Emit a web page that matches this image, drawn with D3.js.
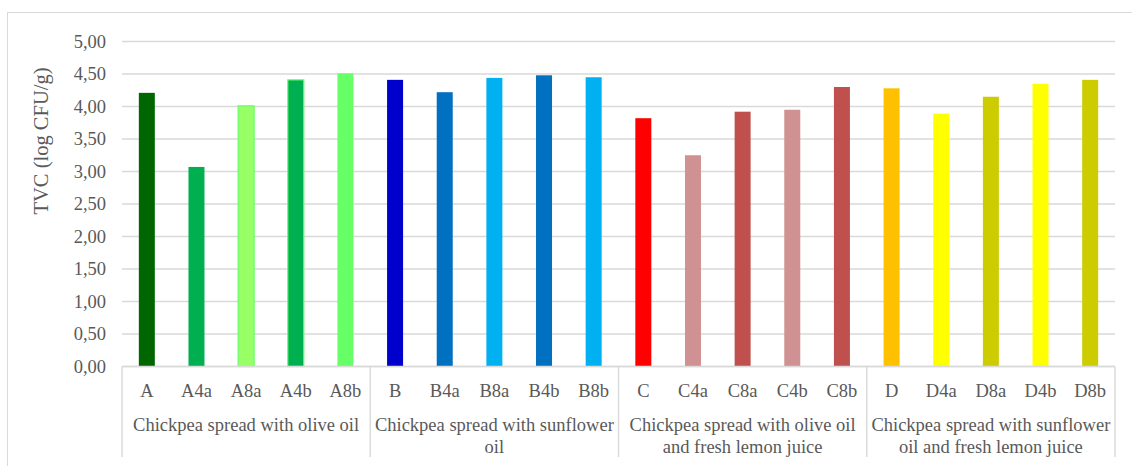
<!DOCTYPE html>
<html>
<head>
<meta charset="utf-8">
<script src="https://cdn.jsdelivr.net/npm/d3@7"></script>
<style>
  html, body { margin: 0; padding: 0; background: #fff; }
  svg text { font-family: "Liberation Serif", "Times New Roman", serif !important; fill: #595959; }
</style>
</head>
<body>
<svg id="chart" width="1132" height="466"></svg>
<script>
// Samples (bars), in order of display
const samples = ["A", "A4a", "A8a", "A4b", "A8b",
                 "B", "B4a", "B8a", "B4b", "B8b",
                 "C", "C4a", "C8a", "C4b", "C8b",
                 "D", "D4a", "D8a", "D4b", "D8b"];
// Total viable count, log CFU/g
const tvc = [4.21, 3.07, 4.01, 4.41, 4.51,
             4.41, 4.22, 4.44, 4.48, 4.45,
             3.82, 3.25, 3.92, 3.95, 4.30,
             4.28, 3.89, 4.15, 4.35, 4.41];
const fills = ["#006600", "#00B050", "#99FF66", "#00B050", "#66FF66",
               "#0000CC", "#0070C0", "#00B0F0", "#0070C0", "#00B0F0",
               "#FF0000", "#CF9191", "#C0504D", "#CF9191", "#C0504D",
               "#FFC000", "#FFFF00", "#CCCC00", "#FFFF00", "#CCCC00"];
const outlines = [null, null, "#66FF66", "#66FF66", null,
                  null, null, null, null, null,
                  null, null, null, null, null,
                  null, null, null, null, null];
// Formulation groups, five samples each
const groups = ["Chickpea spread with olive oil",
                "Chickpea spread with sunflower oil",
                "Chickpea spread with olive oil and fresh lemon juice",
                "Chickpea spread with sunflower oil and fresh lemon juice"];
const yTicks = [0, 0.5, 1, 1.5, 2, 2.5, 3, 3.5, 4, 4.5, 5];
const yTitle = "TVC (log CFU/g)";

const FONT = "'Liberation Serif', 'Times New Roman', serif";
const svg = d3.select("#chart");
const W = 1132, H = 466;
const plot = { left: 122, right: 1115, top: 41.5, bottom: 366.5 };
const grid = "#D9D9D9";

// chart frame
svg.append("rect")
  .attr("x", 7.5).attr("y", 12.5)
  .attr("width", W + 20).attr("height", H + 20)
  .attr("fill", "none").attr("stroke", grid).attr("stroke-width", 1);

const x = d3.scaleBand().domain(samples).range([plot.left, plot.right]).paddingInner(0).paddingOuter(0);
const y = d3.scaleLinear().domain([0, 5]).range([plot.bottom, plot.top]);

// horizontal gridlines
svg.append("g").selectAll("line").data(yTicks).join("line")
  .attr("x1", plot.left).attr("x2", plot.right)
  .attr("y1", d => y(d)).attr("y2", d => y(d))
  .attr("stroke", grid).attr("stroke-width", 1.4);

// y axis tick labels
const fmt = d => d3.format(".2f")(d).replace(".", ",");
const yAxis = d3.axisLeft(y).tickValues(yTicks).tickFormat(fmt).tickSize(0).tickPadding(16);
const yg = svg.append("g").attr("transform", `translate(${plot.left},0)`).call(yAxis);
yg.attr("font-family", FONT).attr("font-size", 18.5);
yg.select(".domain").remove();
yg.selectAll("text").attr("fill", "#595959").attr("font-family", FONT);

// y axis title
svg.append("text")
  .attr("transform", `translate(48,141) rotate(-90)`)
  .attr("text-anchor", "middle")
  .attr("font-family", FONT)
  .attr("font-size", 20.5)
  .text(yTitle);

// bars
const barW = 16;
svg.append("g").selectAll("rect").data(samples).join("rect")
  .attr("x", d => x(d) + x.bandwidth() / 2 - barW / 2)
  .attr("width", barW)
  .attr("y", (d, i) => y(tvc[i]))
  .attr("height", (d, i) => y(0) - y(tvc[i]))
  .attr("fill", (d, i) => fills[i])
  .attr("stroke", (d, i) => outlines[i] || "none")
  .attr("stroke-width", 1.2);

// category axis: baseline and group separators
const catBottom = 457;
svg.append("line")
  .attr("x1", plot.left).attr("x2", plot.right)
  .attr("y1", plot.bottom).attr("y2", plot.bottom)
  .attr("stroke", grid).attr("stroke-width", 1.4);

const groupSize = 5;
const seps = d3.range(groups.length + 1).map(k =>
  k < groups.length ? x(samples[k * groupSize]) : plot.right);
svg.append("g").selectAll("line").data(seps).join("line")
  .attr("x1", d => d).attr("x2", d => d)
  .attr("y1", plot.bottom).attr("y2", catBottom)
  .attr("stroke", grid).attr("stroke-width", 1.4);

// sample labels
svg.append("g").selectAll("text").data(samples).join("text")
  .attr("x", d => x(d) + x.bandwidth() / 2)
  .attr("y", 397)
  .attr("text-anchor", "middle")
  .attr("font-family", FONT)
  .attr("font-size", 18.5)
  .text(d => d);

// group labels, wrapped to the group width
const maxW = (plot.right - plot.left) / groups.length - 6;
groups.forEach((g, k) => {
  const cx = (seps[k] + seps[k + 1]) / 2;
  const t = svg.append("text")
    .attr("text-anchor", "middle")
    .attr("font-family", FONT)
    .attr("font-size", 18.5);
  const words = g.split(" ");
  let lines = [], cur = [];
  const probe = svg.append("text").attr("font-family", FONT).attr("font-size", 18.5);
  words.forEach(w => {
    const test = cur.concat([w]).join(" ");
    probe.text(test);
    if (probe.node().getComputedTextLength() > maxW && cur.length) {
      lines.push(cur.join(" "));
      cur = [w];
    } else {
      cur.push(w);
    }
  });
  lines.push(cur.join(" "));
  probe.remove();
  lines.forEach((ln, j) => {
    t.append("tspan").attr("x", cx).attr("y", 431 + j * 22).text(ln);
  });
});
</script>
</body>
</html>
